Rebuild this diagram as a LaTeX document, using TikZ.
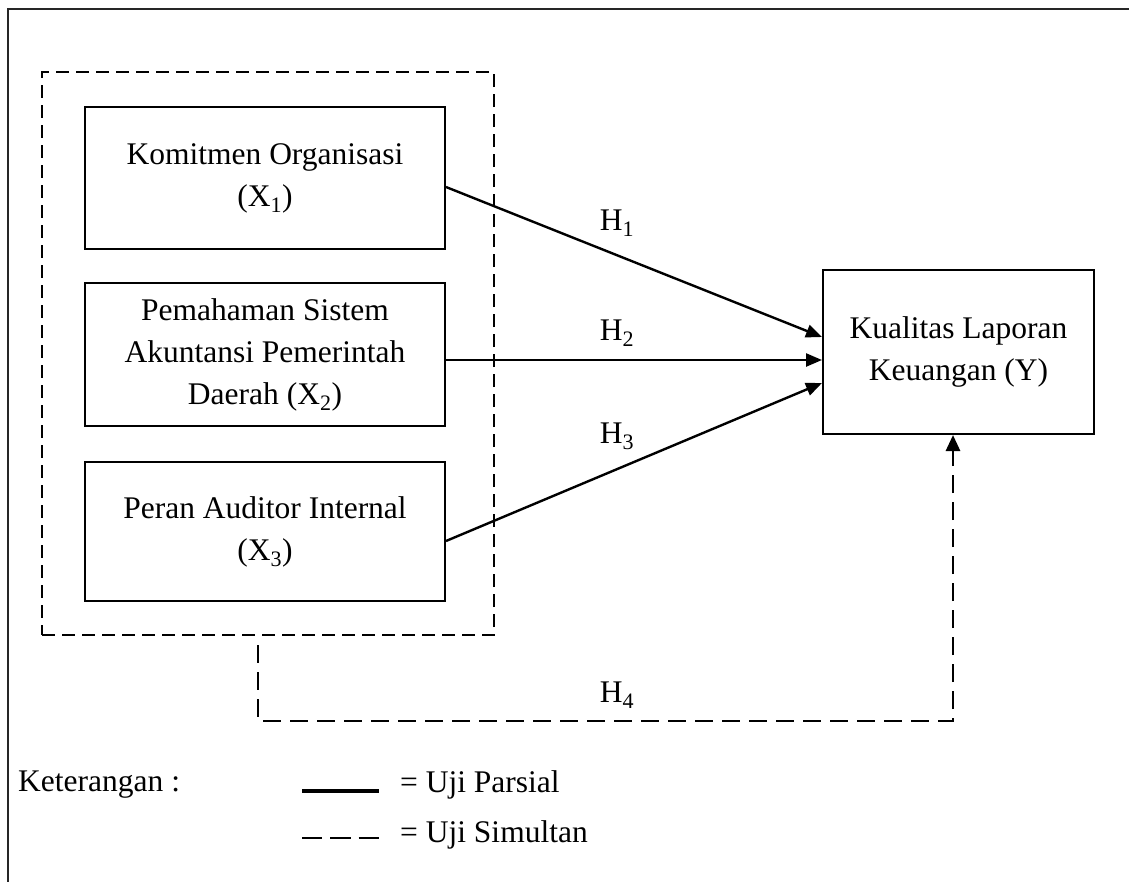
\documentclass[tikz,border=0pt]{standalone}
\usepackage{fontspec}
\setmainfont{Liberation Serif}
\usetikzlibrary{arrows.meta}
\tikzset{
  varbox/.style={draw=black, line width=2pt, minimum width=360pt, inner sep=0pt, align=center,
    font=\fontsize{31.5}{42}\selectfont},
  ybox/.style={draw=black, line width=2pt, minimum width=271pt, minimum height=164pt, inner sep=0pt, align=center,
    font=\fontsize{31.5}{42}\selectfont},
  grpbox/.style={draw=black, line width=1.8pt, dash pattern=on 13pt off 7pt, minimum width=452pt, minimum height=563pt, inner sep=0pt},
  lbl/.style={font=\fontsize{31.5}{38}\selectfont, inner sep=0pt},
  partial/.style={line width=2.4pt, -{Triangle[length=16pt,width=13pt]}},
  simult/.style={line width=2.8pt, dash pattern=on 18pt off 9pt, -{Triangle[length=16pt,width=14pt]}},
}
\begin{document}
\begin{tikzpicture}[x=1pt,y=-1pt]
\useasboundingbox (0,0) rectangle (1129,881);
% outer frame (clipped at right and bottom)
\draw[black!85, line width=1.6pt] (8,890) -- (8,9) -- (1140,9);
% dashed group
\node[grpbox] (grp) at (268,353.5) {};
% variables
\node[varbox, minimum height=142pt] (b1) at (265,178) {Komitmen Organisasi\\(X\textsubscript{1})};
\node[varbox, minimum height=143pt] (b2) at (265,354.5) {Pemahaman Sistem\\Akuntansi Pemerintah\\Daerah (X\textsubscript{2})};
\node[varbox, minimum height=139pt] (b3) at (265,531.5) {Peran Auditor Internal\\(X\textsubscript{3})};
\node[ybox] (y) at (958.5,352) {Kualitas Laporan\\Keuangan (Y)};
% partial arrows
\draw[partial] ([yshift=-9pt]b1.east) -- ([yshift=15pt]y.west);
\draw[partial] ([yshift=-5.5pt]b2.east) -- ([yshift=-5.5pt]b2.east -| y.west);
\draw[partial] ([yshift=-9.5pt]b3.east) -- ([yshift=-31pt]y.west);
% simultaneous arrow
\coordinate (h4s) at (258,645);
\coordinate (h4c) at (600,721);
\draw[simult] (h4s) |- (h4c) -| ([xshift=-5.5pt]y.south);
% hypothesis labels
\node[lbl] (h1) at (617,223) {H\textsubscript{1}};
\node[lbl] (h2) at (617,333) {H\textsubscript{2}};
\node[lbl] (h3) at (617,436) {H\textsubscript{3}};
\node[lbl] (h4) at (617,695) {H\textsubscript{4}};
% legend
\node[lbl, anchor=west] (ket) at (18,785) {Keterangan :};
\coordinate (ls1) at (302,791);
\coordinate (le1) at (379,791);
\coordinate (ls2) at (302,838);
\coordinate (le2) at (379,838);
\draw[line width=4pt] (ls1) -- (le1);
\draw[line width=2.8pt, dash pattern=on 20.3pt off 8pt] (ls2) -- (le2);
\node[lbl, anchor=west] (lp) at (400,785) {= Uji Parsial};
\node[lbl, anchor=west] (lsim) at (400,835) {= Uji Simultan};
\end{tikzpicture}
\end{document}
